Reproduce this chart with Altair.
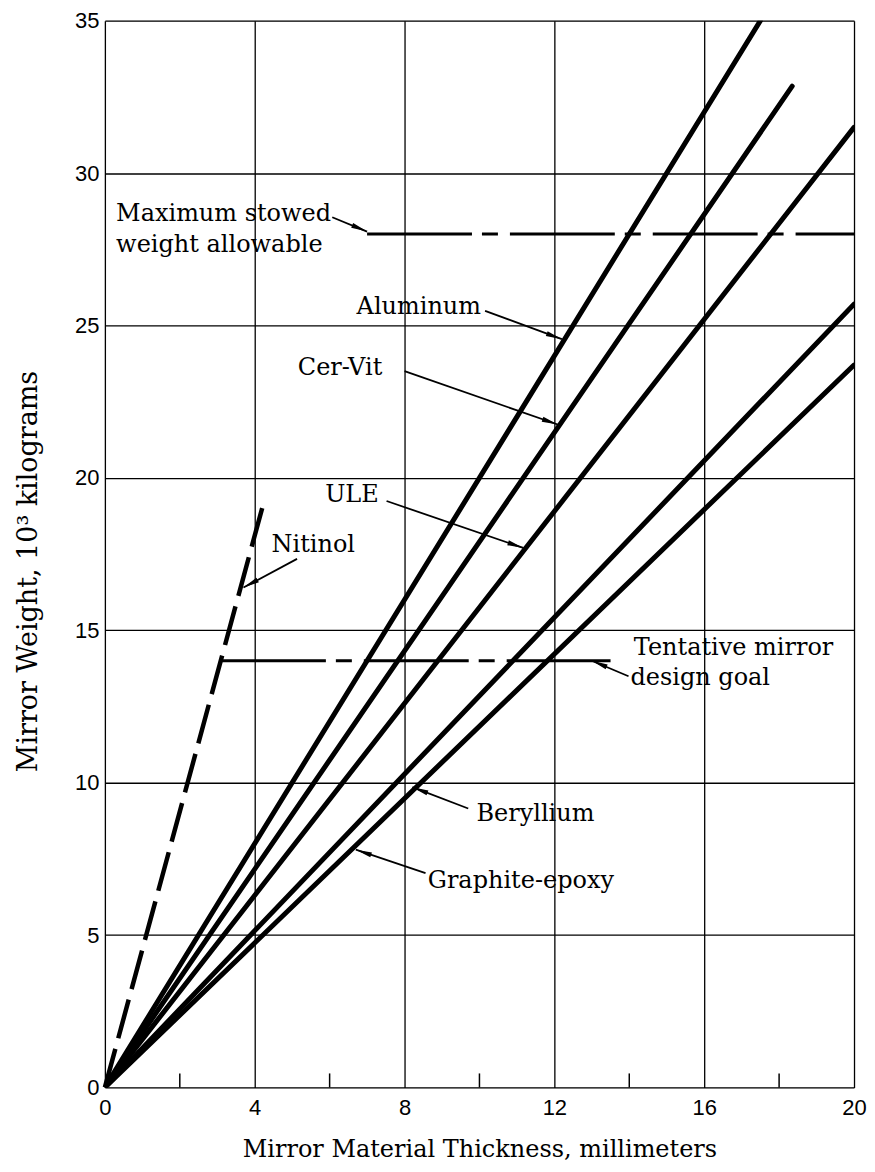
import math
import altair as alt
import pandas as pd

# ---------------- data ----------------
X_MAX, Y_MAX = 20, 35
x_ticks = [0, 4, 8, 12, 16, 20]
x_minor = [2, 6, 10, 14, 18]
y_ticks = [0, 5, 10, 15, 20, 25, 30, 35]

materials = ["Aluminum", "Cer-Vit", "ULE", "Beryllium", "Graphite-epoxy"]
mat_end_x = [17.5, 18.35, 20.0, 20.0, 20.0]
mat_end_y = [35.0, 32.85, 31.5, 25.7, 23.7]

nitinol_end_x = [4.22]
nitinol_end_y = [19.1]

limit_names = ["Maximum stowed weight allowable", "Tentative mirror design goal"]
limit_y = [28.0, 14.0]
limit_x_start = [7.0, 3.1]
limit_x_end = [20.0, 13.5]

label_texts = ["Maximum stowed", "weight allowable", "Aluminum", "Cer-Vit", "ULE",
               "Nitinol", "Tentative mirror", "design goal", "Beryllium", "Graphite-epoxy"]
label_x = [0.3, 0.3, 6.72, 5.15, 5.88, 4.45, 14.12, 14.03, 9.92, 8.62]
label_y = [28.42, 27.40, 25.38, 23.37, 19.21, 17.58, 14.19, 13.2, 8.75, 6.55]

arrow_from_x = [6.07, 10.15, 8.0, 7.52, 5.13, 13.98, 9.70, 8.56]
arrow_from_y = [28.55, 25.48, 23.5, 19.24, 17.34, 13.49, 9.15, 7.03]
arrow_tip_x = [7.0, 12.2, 12.09, 11.17, 3.70, 13.0, 8.21, 6.7]
arrow_tip_y = [28.08, 24.55, 21.75, 17.7, 16.4, 14.0, 9.85, 7.8]

# ---------------- layout ----------------
W, H = 750, 1068
SERIF = "DejaVu Serif"
SANS = "Liberation Sans"

mat_df = pd.DataFrame({"name": materials, "x0": 0.0, "y0": 0.0,
                       "x1": mat_end_x, "y1": mat_end_y})
nit_df = pd.DataFrame({"name": ["Nitinol"], "x0": [0.0], "y0": [0.0],
                       "x1": nitinol_end_x, "y1": nitinol_end_y})
lim_df = pd.DataFrame({"name": limit_names, "x0": limit_x_start, "x1": limit_x_end,
                       "y0": limit_y})
lab_df = pd.DataFrame({"text": label_texts, "x": label_x, "y": label_y})

ppx, ppy = W / X_MAX, H / Y_MAX
angles = []
for fx, fy, tx, ty in zip(arrow_from_x, arrow_from_y, arrow_tip_x, arrow_tip_y):
    dx = (tx - fx) * ppx
    dys = -(ty - fy) * ppy
    angles.append(math.degrees(math.atan2(dx, -dys)) % 360)
arr_df = pd.DataFrame({"x0": arrow_from_x, "y0": arrow_from_y,
                       "x1": arrow_tip_x, "y1": arrow_tip_y, "angle": angles})
minor_df = pd.DataFrame({"x": x_minor})

xs = alt.Scale(domain=[0, X_MAX], nice=False, zero=False)
ys = alt.Scale(domain=[0, Y_MAX], nice=False, zero=False)

x_axis = alt.Axis(values=x_ticks, grid=True, gridColor="black", gridWidth=1.3,
                  gridOpacity=1, domain=False, ticks=False, labelFont=SANS,
                  labelFontSize=22, labelColor="black", labelPadding=10,
                  labelFlush=False, labelOverlap=False,
                  title="Mirror Material Thickness, millimeters",
                  titleFont=SERIF, titleFontSize=24, titleFontWeight="normal",
                  titleColor="black", titleY=62, titleBaseline="middle")
y_axis = alt.Axis(values=y_ticks, grid=True, gridColor="black", gridWidth=1.3,
                  gridOpacity=1, domain=False, ticks=False, labelFont=SANS,
                  labelFontSize=22, labelColor="black", labelPadding=6,
                  labelFlush=False, labelOverlap=False,
                  title="Mirror Weight, 10³ kilograms",
                  titleFont=SERIF, titleFontSize=27, titleFontWeight="normal",
                  titleColor="black", titleX=-76, titleY=551,
                  titleBaseline="middle", titleAngle=270)

base_grid = alt.Chart(minor_df).mark_rule(color="black", strokeWidth=1.5).encode(
    x=alt.X("x:Q", scale=xs, axis=x_axis),
    y=alt.value(H), y2=alt.value(H - 14),
)
# y axis carrier
y_carrier = alt.Chart(minor_df).mark_point(opacity=0).encode(
    x=alt.X("x:Q", scale=xs),
    y=alt.Y("x:Q", scale=ys, axis=y_axis),
)

mat_lines = alt.Chart(mat_df).mark_rule(color="black", strokeWidth=5,
                                        strokeCap="round", clip=True).encode(
    x=alt.X("x0:Q", scale=xs), y=alt.Y("y0:Q", scale=ys),
    x2="x1:Q", y2="y1:Q",
)
nit_line = alt.Chart(nit_df).mark_rule(color="black", strokeWidth=4.5,
                                       strokeDash=[40, 11]).encode(
    x=alt.X("x0:Q", scale=xs), y=alt.Y("y0:Q", scale=ys),
    x2="x1:Q", y2="y1:Q",
)
lim_lines = alt.Chart(lim_df).mark_rule(color="black", strokeWidth=3,
                                        strokeDash=[105, 10, 16, 12]).encode(
    x=alt.X("x0:Q", scale=xs), y=alt.Y("y0:Q", scale=ys), x2="x1:Q",
)
arrow_shafts = alt.Chart(arr_df).mark_rule(color="black", strokeWidth=1.8).encode(
    x=alt.X("x0:Q", scale=xs), y=alt.Y("y0:Q", scale=ys),
    x2="x1:Q", y2="y1:Q",
)
arrow_heads = alt.Chart(arr_df).mark_point(
    shape="M0,0L0.32,2L-0.32,2Z", filled=True, color="black", opacity=1, size=260,
).encode(
    x=alt.X("x1:Q", scale=xs), y=alt.Y("y1:Q", scale=ys),
    angle=alt.Angle("angle:Q", scale=None),
)
labels = alt.Chart(lab_df).mark_text(font=SERIF, fontSize=24, align="left",
                                     baseline="alphabetic", color="black").encode(
    x=alt.X("x:Q", scale=xs), y=alt.Y("y:Q", scale=ys), text="text:N",
)

chart = alt.layer(
    base_grid, y_carrier, mat_lines, nit_line, lim_lines,
    arrow_shafts, arrow_heads, labels,
).properties(
    width=W, height=H,
    autosize=alt.AutoSizeParams(type="none"),
    padding={"left": 97, "top": 12, "right": 13, "bottom": 76},
).configure_view(
    stroke="black", strokeWidth=2.5,
).configure(background="white")

chart.save("out.html", embed_options={"renderer": "svg", "actions": False})
